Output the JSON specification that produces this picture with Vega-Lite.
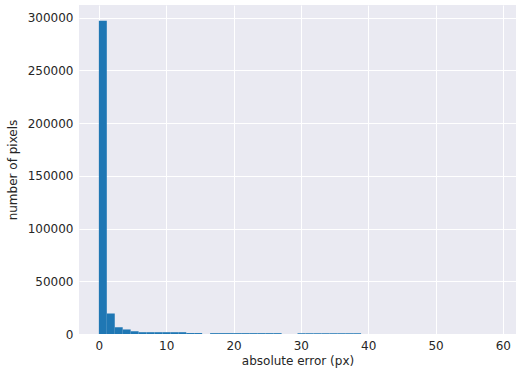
{
  "$schema": "https://vega.github.io/schema/vega-lite/v6.json",
  "autosize": {"type": "none"},
  "width": 437,
  "height": 329,
  "padding": {"left": 79, "top": 5, "right": 0, "bottom": 37},
  "background": "white",
  "config": {
    "view": {"fill": "#EAEAF2", "stroke": null},
    "font": "DejaVu Sans",
    "axis": {
      "grid": true, "gridColor": "white", "gridWidth": 1,
      "domain": false, "ticks": false,
      "labelFont": "DejaVu Sans", "labelFontSize": 12, "labelColor": "#262626",
      "titleFont": "DejaVu Sans", "titleFontSize": 12, "titleColor": "#262626", "titleFontWeight": "normal"
    }
  },
  "data": {"values": [
    {"bin_start": 0, "bin_end": 1.18, "count": 297000},
    {"bin_start": 1.18, "bin_end": 2.36, "count": 19500},
    {"bin_start": 2.36, "bin_end": 3.54, "count": 6400},
    {"bin_start": 3.54, "bin_end": 4.72, "count": 4300},
    {"bin_start": 4.72, "bin_end": 5.9, "count": 2600},
    {"bin_start": 5.9, "bin_end": 7.08, "count": 1700},
    {"bin_start": 7.08, "bin_end": 8.26, "count": 1700},
    {"bin_start": 8.26, "bin_end": 9.44, "count": 1700},
    {"bin_start": 9.44, "bin_end": 10.62, "count": 1700},
    {"bin_start": 10.62, "bin_end": 11.8, "count": 1700},
    {"bin_start": 11.8, "bin_end": 12.98, "count": 1700},
    {"bin_start": 12.98, "bin_end": 14.16, "count": 900},
    {"bin_start": 14.16, "bin_end": 15.34, "count": 900},
    {"bin_start": 16.52, "bin_end": 17.7, "count": 800},
    {"bin_start": 17.7, "bin_end": 18.88, "count": 800},
    {"bin_start": 18.88, "bin_end": 20.06, "count": 800},
    {"bin_start": 20.06, "bin_end": 21.24, "count": 800},
    {"bin_start": 21.24, "bin_end": 22.42, "count": 800},
    {"bin_start": 22.42, "bin_end": 23.6, "count": 800},
    {"bin_start": 23.6, "bin_end": 24.78, "count": 800},
    {"bin_start": 24.78, "bin_end": 25.96, "count": 800},
    {"bin_start": 25.96, "bin_end": 27.14, "count": 800},
    {"bin_start": 29.5, "bin_end": 30.68, "count": 700},
    {"bin_start": 30.68, "bin_end": 31.86, "count": 700},
    {"bin_start": 31.86, "bin_end": 33.04, "count": 700},
    {"bin_start": 33.04, "bin_end": 34.22, "count": 700},
    {"bin_start": 34.22, "bin_end": 35.4, "count": 700},
    {"bin_start": 35.4, "bin_end": 36.58, "count": 700},
    {"bin_start": 36.58, "bin_end": 37.76, "count": 700},
    {"bin_start": 37.76, "bin_end": 38.94, "count": 700},
    {"bin_start": 57.82, "bin_end": 59.0, "count": 5}
  ]},
  "mark": {"type": "rect", "color": "#1f77b4"},
  "encoding": {
    "x": {
      "field": "bin_start", "type": "quantitative",
      "scale": {"domain": [-2.95, 61.95], "nice": false, "zero": false},
      "axis": {"values": [0, 10, 20, 30, 40, 50, 60], "title": "absolute error (px)", "labelPadding": 6, "titlePadding": 4, "labelFlush": false}
    },
    "x2": {"field": "bin_end"},
    "y": {
      "field": "count", "type": "quantitative",
      "scale": {"domain": [0, 311850], "nice": false},
      "axis": {"values": [0, 50000, 100000, 150000, 200000, 250000, 300000], "format": "d", "title": "number of pixels", "labelPadding": 6, "titlePadding": 8, "labelFlush": false}
    },
    "y2": {"datum": 0}
  }
}
